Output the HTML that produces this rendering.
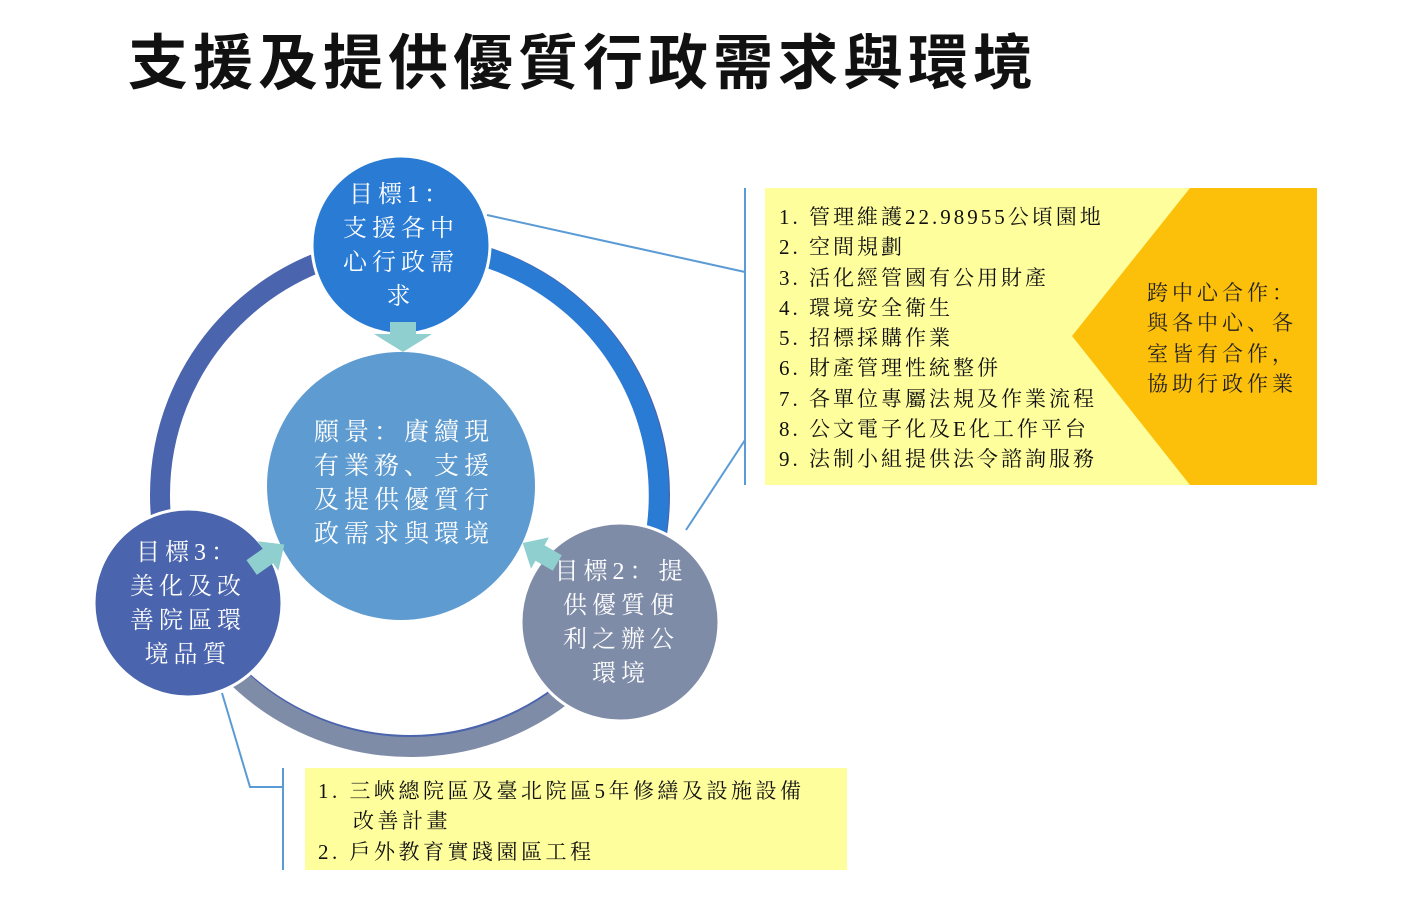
<!DOCTYPE html>
<html><head><meta charset="utf-8"><style>
body{margin:0;width:1415px;height:900px;background:#fff;overflow:hidden;position:relative}
.t{position:absolute;font-family:"Liberation Serif","Noto Serif CJK SC",serif;white-space:nowrap}
</style></head><body>
<div class="t" style="left:128px;top:26px;font-family:'Liberation Sans','Noto Sans CJK TC',sans-serif;font-weight:bold;font-size:60px;letter-spacing:5px;line-height:76px;color:#111">支援及提供優質行政需求與環境</div>
<svg width="1415" height="900" style="position:absolute;left:0;top:0">
<circle cx="410" cy="495" r="250" fill="none" stroke="#4a64ad" stroke-width="20"/>
<path d="M 410 245 A 250 250 0 0 1 640 590" fill="none" stroke="#2a7bd4" stroke-width="20"/>
<path d="M 600 660 A 250 250 0 0 1 230 670" fill="none" stroke="#7f8ca8" stroke-width="20"/>
<g stroke="#5b9bd5" stroke-width="2" fill="none">
<line x1="745" y1="188" x2="745" y2="485"/>
<line x1="487" y1="215" x2="745" y2="272"/>
<line x1="686" y1="530" x2="745" y2="440"/>
<polyline points="222,693 250,787 283,787"/>
<line x1="283" y1="768" x2="283" y2="870"/>
</g>
<rect x="765" y="188" width="552" height="297" fill="#fffe9c"/>
<polygon points="1190,188 1317,188 1317,485 1190,485 1072,336" fill="#fcbf0a"/>
<rect x="305" y="768" width="542" height="102" fill="#fffe9c"/>
<circle cx="401" cy="486" r="134" fill="#5e9bd0"/>
<circle cx="401" cy="245" r="89" fill="#2a7bd4" stroke="#fff" stroke-width="3"/>
<circle cx="620" cy="622" r="99" fill="#7f8ca8" stroke="#fff" stroke-width="3"/>
<circle cx="188" cy="603" r="94" fill="#4a64ad" stroke="#fff" stroke-width="3"/>
<polygon points="390,322 416,322 416,334 432,334 403,352 374,334 390,334" fill="#8fcfcf"/>
<polygon transform="translate(268,556) rotate(-35)" points="-20,-9 0,-9 0,-18 20,0 0,18 0,9 -20,9" fill="#8fcfcf"/>
<polygon transform="translate(540,553) rotate(210)" points="-20,-9 0,-9 0,-18 20,0 0,18 0,9 -20,9" fill="#8fcfcf"/>
</svg>
<div class="t" style="left:324px;top:178px;width:154px;text-align:center;color:#fff;font-size:24px;line-height:34px;letter-spacing:5px;white-space:normal">目標1：<br>支援各中<br>心行政需<br>求</div>
<div class="t" style="left:314px;top:416px;color:#fff;font-size:25px;line-height:34px;letter-spacing:5px">願景：賡續現<br>有業務、支援<br>及提供優質行<br>政需求與環境</div>
<div class="t" style="left:548px;top:555px;width:146px;text-align:center;color:#fff;font-size:24px;line-height:34px;letter-spacing:5px;white-space:normal">目標2：提<br>供優質便<br>利之辦公<br>環境</div>
<div class="t" style="left:115px;top:536px;width:146px;text-align:center;color:#fff;font-size:24px;line-height:34px;letter-spacing:5px;white-space:normal">目標3：<br>美化及改<br>善院區環<br>境品質</div>
<div class="t" style="left:779px;top:202px;color:#111;font-size:21px;line-height:30.3px;letter-spacing:3px">1. 管理維護22.98955公頃園地<br>2. 空間規劃<br>3. 活化經管國有公用財產<br>4. 環境安全衛生<br>5. 招標採購作業<br>6. 財產管理性統整併<br>7. 各單位專屬法規及作業流程<br>8. 公文電子化及E化工作平台<br>9. 法制小組提供法令諮詢服務</div>
<div class="t" style="left:1147px;top:278px;color:#222;font-size:21px;line-height:30.3px;letter-spacing:4px">跨中心合作：<br>與各中心、各<br>室皆有合作，<br>協助行政作業</div>
<div class="t" style="left:318px;top:776px;color:#111;font-size:21px;line-height:30.3px;letter-spacing:3.5px">1. 三峽總院區及臺北院區5年修繕及設施設備<br>&nbsp;&nbsp;&nbsp;&nbsp;改善計畫<br>2. 戶外教育實踐園區工程</div>
</body></html>
